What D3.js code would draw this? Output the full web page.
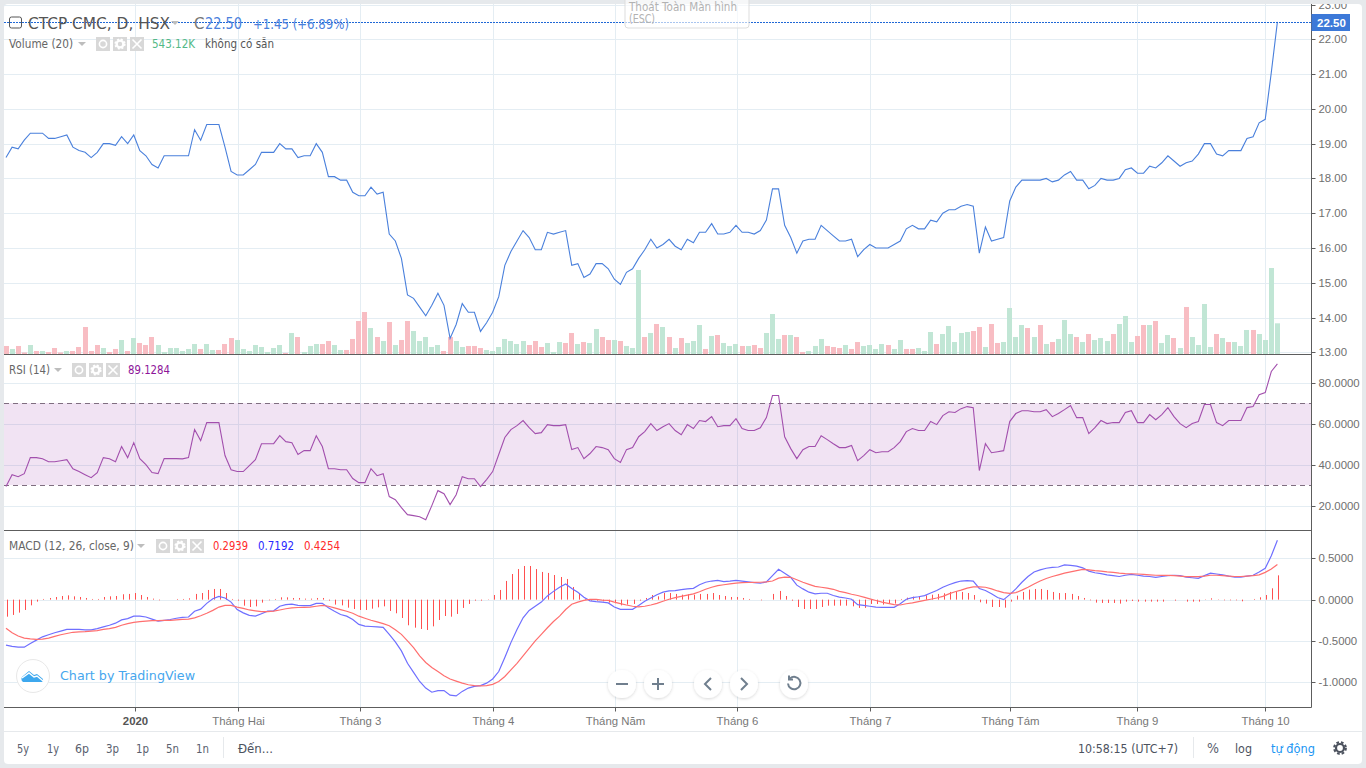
<!DOCTYPE html>
<html><head><meta charset="utf-8">
<script src="https://cdn.jsdelivr.net/npm/d3@7/dist/d3.min.js"></script>
<style>
html,body{margin:0;padding:0;background:#e6e9ec;overflow:hidden}
svg{display:block}
text{font-family:"Liberation Sans",Arial,sans-serif}
.ui{font-family:"DejaVu Sans",sans-serif}
.axis path,.axis line{stroke:#5d5d5d}
.axis text{fill:#6f6f6f;font-size:11.4px;font-family:"Liberation Sans",Arial,sans-serif}
</style></head><body>
<svg id="c" width="1366" height="768"></svg>
<script>
const priceTicks=[13,14,15,16,17,18,19,20,21,22,23];
const rsiTicks=[20,40,60,80];
const macdTicks=[-1,-0.5,0,0.5];
const rsiBands=[30,70];
const timeLabels=["2020","Tháng Hai","Tháng 3","Tháng 4","Tháng Năm","Tháng 6","Tháng 7","Tháng Tám","Tháng 9","Tháng 10"];
const timeIndex=[21.26,38.22,58.28,80.14,100.2,120.24,142.1,165.1,186.06,207.0];
const rangeButtons=["5y","1y","6p","3p","1p","5n","1n"];
const lastClose=22.5;

const price=[18.6,18.9,18.85,19.1,19.3,19.3,19.3,19.15,19.15,19.2,
19.25,18.9,18.8,18.75,18.6,18.75,19.0,19.0,18.95,19.2,
19.0,19.25,18.8,18.65,18.4,18.3,18.65,18.65,18.65,18.65,
18.65,19.4,19.1,19.55,19.55,19.55,18.9,18.2,18.1,18.1,
18.25,18.4,18.75,18.75,18.75,19.0,18.85,18.85,18.6,18.65,
18.65,19.0,18.75,18.05,18.05,17.95,17.95,17.6,17.5,17.5,
17.75,17.55,17.6,16.4,16.2,15.7,14.65,14.55,14.3,14.05,
14.35,14.7,14.35,13.4,13.8,14.4,14.15,14.15,13.6,13.85,
14.15,14.6,15.5,15.9,16.2,16.5,16.3,15.95,15.95,16.45,
16.4,16.45,16.5,15.5,15.55,15.15,15.25,15.55,15.55,15.4,
15.1,14.95,15.3,15.4,15.7,15.95,16.25,16.0,16.1,16.25,
16.05,15.95,16.25,16.15,16.45,16.45,16.7,16.4,16.4,16.45,
16.65,16.45,16.45,16.4,16.5,16.8,17.7,17.7,16.65,16.3,
15.85,16.2,16.25,16.25,16.65,16.5,16.35,16.2,16.2,16.25,
15.75,15.95,16.1,16.0,16.0,16.0,16.1,16.2,16.55,16.65,
16.55,16.55,16.8,16.75,17.0,17.1,17.1,17.2,17.25,17.2,
15.85,16.6,16.2,16.25,16.3,17.35,17.75,17.95,17.95,17.95,
17.95,18.0,17.9,17.95,18.1,18.2,17.95,17.95,17.7,17.8,
18.0,17.95,17.95,18.0,18.25,18.3,18.15,18.15,18.35,18.3,
18.45,18.65,18.5,18.35,18.45,18.5,18.7,19.0,19.0,18.7,
18.65,18.8,18.8,18.8,19.15,19.2,19.6,19.7,21.05,22.5];

const volume=[142,89,142,27,159,53,53,35,106,27,
53,53,124,478,53,159,106,35,89,248,
53,283,195,159,301,159,35,106,106,53,
89,177,89,177,71,71,177,283,248,89,
53,159,124,35,106,159,18,372,301,35,
142,177,177,230,159,71,71,266,584,743,
460,301,230,566,159,248,584,407,230,301,
124,159,53,301,230,124,142,142,106,71,
53,124,266,230,177,230,159,230,124,195,
35,212,195,372,177,212,195,443,301,248,
248,230,142,106,1487,301,372,531,478,301,
106,283,195,230,513,89,319,336,195,142,
177,142,142,159,106,372,708,266,336,336,
301,35,53,142,266,142,124,106,159,89,
212,142,159,89,177,159,89,248,89,89,
106,53,389,177,354,496,212,372,389,407,
478,124,531,195,212,814,301,513,460,301,
513,177,212,266,602,354,301,212,354,248,
283,230,354,531,673,212,319,513,513,584,
195,336,283,106,832,301,159,885,124,354,
283,212,212,142,425,425,354,248,1522,543.12];

const volumeUp=[0,1,0,0,1,0,1,0,0,0,
1,0,0,0,0,0,1,0,0,1,
0,1,0,0,0,1,1,1,1,1,
1,1,0,1,1,0,0,0,1,1,
1,1,1,1,1,1,0,1,0,1,
1,1,0,0,1,1,0,0,0,0,
1,0,1,0,1,0,0,1,1,1,
1,1,0,0,1,1,0,0,0,1,
1,1,1,1,1,1,0,0,0,1,
1,1,0,0,1,0,1,1,0,0,
1,0,1,1,1,0,1,0,1,0,
1,0,1,1,1,0,1,0,1,1,
1,0,1,0,0,1,1,1,0,1,
0,0,1,1,1,0,0,0,1,0,
0,1,1,1,1,0,1,1,0,0,
1,1,1,0,1,1,1,1,1,0,
0,1,0,0,1,1,1,1,0,1,
0,1,0,1,1,1,0,1,0,1,
1,1,0,1,1,1,0,0,1,0,
1,1,0,1,0,1,1,1,1,0,
1,0,1,1,1,0,1,1,1,1];

const rsi=[29.3,35.1,34.1,35.6,43.4,43.4,42.9,41.4,41.4,41.9,
42.4,38.0,36.6,35.1,33.6,36.1,43.4,42.9,41.4,48.8,
43.4,50.7,42.9,40.0,36.1,35.6,42.9,42.9,42.9,42.8,
43.4,57.1,51.7,60.5,60.5,60.5,44.4,37.5,36.6,36.6,
39.5,42.4,50.2,50.2,50.2,54.1,51.2,50.7,44.9,46.8,
46.8,54.1,48.8,38.0,38.0,37.5,37.5,33.2,31.2,31.2,
38.0,34.6,35.6,24.4,22.9,19.0,15.6,15.1,14.6,13.1,
20.0,27.3,25.8,20.5,25.3,34.1,33.1,33.1,29.3,32.7,
36.6,44.9,53.2,57.1,59.0,61.5,58.0,55.1,55.6,59.5,
59.0,59.0,59.5,47.3,48.3,42.9,45.4,48.8,48.3,47.3,
42.9,41.0,47.3,48.3,53.6,56.1,60.0,56.6,58.5,60.0,
56.6,54.6,59.5,57.6,61.5,61.0,63.4,58.5,59.0,59.0,
62.4,57.6,56.6,56.6,58.0,62.9,73.7,73.7,53.6,47.8,
42.9,47.3,48.8,48.8,54.1,52.2,50.2,48.3,48.3,49.3,
41.9,44.4,47.3,45.8,46.3,46.3,48.3,51.2,56.1,57.6,
56.6,56.6,61.0,59.5,63.9,65.8,65.4,67.3,68.3,67.8,
37.1,50.2,45.8,46.3,46.8,61.0,64.9,66.3,66.3,65.8,
65.8,66.8,63.4,64.9,66.8,68.8,62.9,62.9,55.1,58.0,
61.5,60.0,60.5,60.5,65.4,66.3,60.5,60.5,64.4,61.9,
64.4,67.8,63.4,60.0,58.0,60.0,61.0,69.3,69.3,60.5,
59.0,61.5,61.5,61.5,67.8,68.3,74.1,75.1,85.4,89.1284];

const macd=[-.55,-.565,-.575,-.575,-.53,-.49,-.45,-.425,-.40,-.38,
-.36,-.36,-.36,-.365,-.365,-.35,-.33,-.31,-.285,-.245,
-.23,-.20,-.20,-.21,-.235,-.26,-.25,-.24,-.225,-.215,
-.21,-.14,-.115,-.045,.01,.04,.02,-.03,-.12,-.16,
-.19,-.20,-.17,-.14,-.135,-.08,-.06,-.055,-.07,-.072,
-.072,-.045,-.044,-.097,-.14,-.18,-.20,-.24,-.30,-.32,
-.325,-.33,-.335,-.42,-.51,-.62,-.77,-.88,-.99,-1.07,
-1.12,-1.10,-1.10,-1.155,-1.165,-1.11,-1.07,-1.05,-1.04,-1.01,
-.96,-.87,-.70,-.52,-.36,-.22,-.13,-.08,-.03,.045,
.10,.15,.19,.135,.09,.03,-.015,-.025,-.03,-.04,
-.09,-.117,-.117,-.117,-.07,-.02,.02,.06,.09,.105,
.11,.12,.13,.137,.18,.21,.225,.232,.218,.225,
.234,.225,.215,.205,.198,.215,.29,.367,.32,.27,
.175,.13,.09,.069,.077,.077,.05,.03,.02,.005,
-.06,-.07,-.08,-.09,-.093,-.093,-.093,-.05,.005,.025,
.035,.048,.08,.11,.15,.18,.205,.225,.23,.225,
.135,.11,.07,.025,0,.06,.13,.21,.28,.335,
.36,.38,.39,.395,.42,.415,.405,.385,.345,.325,
.315,.30,.29,.28,.295,.305,.295,.285,.28,.27,
.28,.29,.295,.29,.272,.265,.258,.29,.32,.31,
.30,.285,.272,.272,.285,.295,.335,.38,.53,.7192];

const signal=[-.345,-.40,-.44,-.465,-.475,-.48,-.478,-.465,-.445,-.425,
-.41,-.395,-.39,-.387,-.38,-.375,-.36,-.35,-.335,-.31,
-.29,-.275,-.265,-.26,-.255,-.253,-.25,-.25,-.245,-.24,
-.235,-.22,-.195,-.165,-.13,-.09,-.07,-.07,-.09,-.105,
-.125,-.135,-.145,-.145,-.14,-.125,-.11,-.10,-.095,-.093,
-.09,-.08,-.07,-.08,-.10,-.12,-.14,-.165,-.20,-.225,
-.25,-.27,-.29,-.315,-.365,-.42,-.50,-.58,-.68,-.76,
-.82,-.87,-.92,-.96,-.985,-1.01,-1.03,-1.04,-1.044,-1.04,
-1.025,-.99,-.93,-.85,-.77,-.68,-.59,-.50,-.42,-.34,
-.265,-.20,-.12,-.055,-.03,-.01,.002,.003,-.005,-.01,
-.03,-.048,-.065,-.08,-.088,-.08,-.065,-.045,-.02,.005,
.025,.04,.055,.07,.095,.125,.15,.17,.18,.19,
.20,.205,.207,.208,.21,.215,.225,.26,.272,.27,
.24,.21,.185,.16,.15,.14,.125,.10,.085,.065,
.05,.03,.01,-.01,-.03,-.045,-.06,-.065,-.05,-.04,
-.025,-.01,.005,.02,.04,.07,.095,.115,.14,.155,
.155,.15,.13,.105,.085,.075,.085,.115,.15,.19,
.225,.255,.28,.30,.32,.335,.35,.365,.36,.35,
.345,.335,.33,.32,.315,.313,.31,.305,.30,.295,
.294,.294,.29,.285,.278,.278,.278,.285,.295,.295,
.29,.285,.28,.28,.285,.29,.30,.33,.37,.4254];

const hist=[-.206,-.185,-.157,-.125,-.069,-.024,.008,.02,.032,.044,
.052,.04,.032,.02,.008,.008,.032,.04,.044,.065,
.069,.08,.056,.032,.012,-.008,0,0,.008,.008,
.016,.069,.08,.117,.129,.129,.08,.008,-.012,-.073,
-.089,-.081,-.036,-.008,.008,.028,.028,.02,.02,.012,
.012,.02,.02,-.012,-.06,-.069,-.097,-.113,-.125,-.125,
-.109,-.093,-.081,-.137,-.165,-.222,-.31,-.339,-.355,-.367,
-.323,-.246,-.198,-.206,-.173,-.10,-.052,-.012,-.012,.004,
.056,.117,.226,.31,.37,.407,.407,.37,.335,.323,
.298,.274,.25,.153,.08,.008,-.012,-.012,-.02,-.036,
-.044,-.069,-.06,-.052,-.012,.02,.056,.04,.08,.08,
.069,.06,.065,.06,.069,.069,.08,.056,.044,.032,
.032,.02,.008,0,-.008,0,.069,.105,.044,-.012,
-.089,-.113,-.113,-.113,-.089,-.073,-.073,-.073,-.073,-.081,
-.10,-.10,-.052,-.052,-.06,-.048,-.048,.008,.024,.036,
.044,.052,.06,.069,.077,.093,.10,.093,.08,.056,
-.032,-.048,-.089,-.089,-.097,-.024,.048,.093,.121,.129,
.129,.117,.093,.08,.08,.069,.044,.02,-.008,-.036,
-.04,-.04,-.04,-.048,-.024,-.016,-.024,-.024,-.024,-.024,
-.024,0,-.012,0,-.024,-.024,-.024,.004,.016,.004,
-.008,-.008,-.008,-.02,0,.008,.028,.056,.137,.2939];

[price,volume,volumeUp,rsi,macd,signal,hist].forEach((a,k)=>{if(a.length!==210)throw new Error("len "+k+" "+a.length)});
const idx=d3.range(210);

const svg=d3.select("#c");
svg.append("rect").attr("x",4).attr("y",4).attr("width",1358).attr("height",760).attr("rx",4).attr("fill","#fff");

const L=4,R=1311.5;
const x=d3.scaleLinear().domain([0,209]).range([6,1277.4]);
const yP=d3.scaleLinear().domain([13,22]).range([352.3,39.3]);
const yV=d3.scaleLinear().domain([0,1522]).range([354,268]);
const yR=d3.scaleLinear().domain([20,80]).range([505.6,382.6]);
const yM=d3.scaleLinear().domain([-1,0.5]).range([682.3,558.3]);

const defs=svg.append("defs");
[["cp",4,350],["cr",355,175.5],["cm",531,176]].forEach(([id,y,h])=>{
  defs.append("clipPath").attr("id",id).append("rect").attr("x",L).attr("y",y).attr("width",R-L).attr("height",h);
});
const GRID="#e4edf3";
const grid=svg.append("g").attr("stroke",GRID).attr("stroke-width",1);
function hgrid(vals,scale,clip){
  grid.append("g").attr("clip-path",`url(#${clip})`).selectAll("line").data(vals).join("line")
    .attr("x1",L).attr("x2",R).attr("y1",d=>Math.round(scale(d))+.5).attr("y2",d=>Math.round(scale(d))+.5);
}
hgrid(priceTicks,yP,"cp");hgrid(rsiTicks,yR,"cr");hgrid(macdTicks,yM,"cm");
grid.selectAll("line.v").data(timeIndex).join("line").attr("class","v")
  .attr("x1",d=>Math.floor(x(d))+.5).attr("x2",d=>Math.floor(x(d))+.5).attr("y1",4).attr("y2",707);

const pg=svg.append("g").attr("clip-path","url(#cp)");
pg.selectAll("rect.vol").data(idx).join("rect").attr("class","vol")
  .attr("x",i=>Math.round(x(i)-2.5)).attr("width",5)
  .attr("y",i=>yV(volume[i])).attr("height",i=>yV(0)-yV(volume[i]))
  .attr("fill",i=>volumeUp[i]?"#c1e6d5":"#f8bdc3");
pg.append("path").datum(idx).attr("fill","none").attr("stroke","#4a80dc").attr("stroke-width",1.1)
  .attr("d",d3.line().x(i=>x(i)).y(i=>yP(price[i])));
svg.append("line").attr("x1",L).attr("x2",R).attr("y1",Math.round(yP(lastClose))+.5).attr("y2",Math.round(yP(lastClose))+.5)
  .attr("stroke","#1f68d6").attr("stroke-width",1).attr("stroke-dasharray","2 1");

const rg=svg.append("g").attr("clip-path","url(#cr)");
rg.append("rect").attr("x",L).attr("width",R-L).attr("y",yR(rsiBands[1])).attr("height",yR(rsiBands[0])-yR(rsiBands[1])).attr("fill","#8e1599").attr("fill-opacity",.12);
rg.selectAll("line.b").data(rsiBands).join("line").attr("class","b").attr("x1",L).attr("x2",R)
  .attr("y1",d=>Math.round(yR(d))+.5).attr("y2",d=>Math.round(yR(d))+.5)
  .attr("stroke","#7f6e80").attr("stroke-dasharray","5 4");
rg.append("path").datum(idx).attr("fill","none").attr("stroke","#a24fad").attr("stroke-width",1.1)
  .attr("d",d3.line().x(i=>x(i)).y(i=>yR(rsi[i])));

const mg=svg.append("g").attr("clip-path","url(#cm)");
mg.selectAll("rect.h").data(idx).join("rect").attr("class","h")
  .attr("x",i=>Math.round(x(i))+1).attr("width",1)
  .attr("y",i=>Math.min(yM(0),yM(hist[i]))).attr("height",i=>Math.abs(yM(0)-yM(hist[i])))
  .attr("fill","#ff4f4f");
mg.append("path").datum(idx).attr("fill","none").attr("stroke","#6f6fff").attr("stroke-width",1.2)
  .attr("d",d3.line().x(i=>x(i)).y(i=>yM(macd[i])));
mg.append("path").datum(idx).attr("fill","none").attr("stroke","#ff6f6f").attr("stroke-width",1.2)
  .attr("d",d3.line().x(i=>x(i)).y(i=>yM(signal[i])));

function rAxis(scale,ticks,fmt){
  const g=svg.append("g").attr("class","axis").attr("transform",`translate(${R},0)`)
    .call(d3.axisRight(scale).tickValues(ticks).tickFormat(fmt).tickSize(4).tickPadding(3));
  g.select(".domain").remove();
  g.selectAll(".tick").attr("transform",d=>`translate(0,${Math.round(scale(d))+.5})`);
  return g;
}
rAxis(yP,priceTicks,d=>d.toFixed(2));
rAxis(yR,rsiTicks,d=>d.toFixed(4));
rAxis(yM,macdTicks,d=>d.toFixed(4));
svg.append("line").attr("x1",R).attr("x2",R).attr("y1",4).attr("y2",707.5).attr("stroke","#5d5d5d");
[354.5,530.5,707.5].forEach(y=>svg.append("line").attr("x1",L).attr("x2",R).attr("y1",y).attr("y2",y).attr("stroke","#5d5d5d"));
const xAxis=svg.append("g").attr("class","axis").attr("transform","translate(0,707.5)")
  .call(d3.axisBottom(x).tickValues(timeIndex).tickFormat((d,i)=>timeLabels[i]).tickSize(4).tickPadding(5));
xAxis.select(".domain").remove();
xAxis.selectAll(".tick").attr("transform",d=>`translate(${Math.floor(x(d))+.5},0)`);
xAxis.selectAll("text").style("font-weight",(d,i)=>i===0?"bold":"normal").style("fill",(d,i)=>i===0?"#555":"#777");
svg.append("rect").attr("x",1300).attr("y",0).attr("width",66).attr("height",4).attr("fill","#e6e9ec");

svg.append("rect").attr("x",1311.5).attr("y",14).attr("width",38.5).attr("height",17).attr("fill","#3c79d8");
svg.append("text").attr("x",1317).attr("y",26.5).attr("fill","#fff").attr("font-weight","bold").attr("font-size",11.5).text(lastClose.toFixed(2));

function t(xp,yp,s,fill,size,w){
  const e=svg.append("text").attr("x",xp).attr("y",yp).attr("fill",fill).attr("font-size",size).attr("class","ui").text(s);
  if(w)e.attr("textLength",w).attr("lengthAdjust","spacingAndGlyphs");
  return e;
}
function caret(xp,yp){svg.append("path").attr("d",`M${xp},${yp}h8l-4,4z`).attr("fill","#bdbdbd");}
function icons(x0,yc){
  [0,17,34].forEach((dx,k)=>{
    const X=x0+dx;
    svg.append("rect").attr("x",X).attr("y",yc-7).attr("width",14).attr("height",14).attr("fill","#d8d8d8");
    if(k===0){svg.append("circle").attr("cx",X+7).attr("cy",yc).attr("r",3.6).attr("fill","none").attr("stroke","#fff").attr("stroke-width",1.6);}
    if(k===1){svg.append("circle").attr("cx",X+7).attr("cy",yc).attr("r",3.4).attr("fill","none").attr("stroke","#fff").attr("stroke-width",2.4);
      svg.append("circle").attr("cx",X+7).attr("cy",yc).attr("r",4.8).attr("fill","none").attr("stroke","#fff").attr("stroke-width",1.6).attr("stroke-dasharray","2 1.8");}
    if(k===2){svg.append("path").attr("d",`M${X+2.5},${yc-4.5}l9,9m0,-9l-9,9`).attr("stroke","#fff").attr("stroke-width",1.6);}
  });
}
svg.append("rect").attr("x",9.5).attr("y",17).attr("width",12).attr("height",11).attr("rx",2).attr("fill","none").attr("stroke","#555");
t(28,28.5,"CTCP CMC, D, HSX","#555",15.5,142);
caret(171,21);
t(194,28.5,"C","#777",15);
t(205,28.5,"22.50","#4a80dc",15,37);
t(253,28.5,"+1.45 (+6.89%)","#4a80dc",14.5,96);
t(9,48,"Volume (20)","#666",12,64);caret(78,42);icons(96,44);
t(152,48,"543.12K","#53b987",12,43);t(205,48,"không có sẵn","#555",12,69);
t(9,374,"RSI (14)","#666",12,41);caret(54,368);icons(72,370);
t(128,374,"89.1284","#8e1599",12,42);
t(9,550,"MACD (12, 26, close, 9)","#666",12,125);caret(137,544);icons(156,546);
t(213,550,"0.2939","#ff2a2a",12,35);t(258,550,"0.7192","#2a2aff",12,36);t(304,550,"0.4254","#ff2a2a",12,36);

svg.append("rect").attr("x",625).attr("y",-3).attr("width",124).attr("height",31).attr("rx",3).attr("fill","#fff").attr("fill-opacity",.62).attr("stroke","#ddd");
t(629,11,"Thoát Toàn Màn hình","#b2b2b2",11.5,108);
t(629,23,"(ESC)","#b2b2b2",11.5,26);

svg.append("circle").attr("cx",33).attr("cy",676).attr("r",16.5).attr("fill","#fff").attr("stroke","#e8e8e8");
svg.append("path").attr("d","M23,682a3.6,3.6 0 0 1 0,-6l6,-5 5,4 3,-1 6,5a2.6,2.6 0 0 1 -1,3z").attr("fill","#3ea8ee");
svg.append("path").attr("d","M22,678l7,-5 5,4 3,-1 6,5").attr("fill","none").attr("stroke","#fff").attr("stroke-width",1.4);
t(60,680,"Chart by TradingView","#45a6ee",13,135);

const fb=[622,658,708,744,794];
const bg=svg.append("g");
const sh=defs.append("filter").attr("id","s").attr("x","-30%").attr("y","-30%").attr("width","160%").attr("height","160%");
sh.append("feDropShadow").attr("dx",0).attr("dy",1).attr("stdDeviation",1.6).attr("flood-color","#000").attr("flood-opacity",.16);
fb.forEach(cx=>bg.append("circle").attr("cx",cx).attr("cy",684).attr("r",14).attr("fill","#fff").attr("filter","url(#s)"));
const ic={fill:"none",stroke:"#707f8e","stroke-width":2};
function p(d){const e=bg.append("path").attr("d",d);Object.entries(ic).forEach(([k,v])=>e.attr(k,v));}
p("M616,684h12");p("M652,684h12M658,678v12");p("M711,678l-6,6 6,6");p("M741,678l6,6 -6,6");
p("M790,678.5a6.2,6.2 0 1 1 -2,5");p("M789,675.5v4h4");

svg.append("line").attr("x1",4).attr("x2",1362).attr("y1",731.5).attr("y2",731.5).attr("stroke","#e6e9ec");
const bx=[17,47,75,106,136,166,196];
const bw=[12,12,14,13,13,13,13];
rangeButtons.forEach((s,i)=>t(bx[i],753,s,"#59606e",12.5,bw[i]));
svg.append("line").attr("x1",223.5).attr("x2",223.5).attr("y1",737).attr("y2",758).attr("stroke","#e6e9ec");
t(238,753,"Đến...","#4c525e",12.5,35);
t(1078,753,"10:58:15 (UTC+7)","#4c525e",12.5,100);
svg.append("line").attr("x1",1193.5).attr("x2",1193.5).attr("y1",737).attr("y2",758).attr("stroke","#e6e9ec");
t(1207,753,"%","#59606e",14,12);
t(1235,753,"log","#4c525e",12.5,17);
t(1271,753,"tự động","#2196f3",12.5,44);
const gc=[1340,748];
svg.append("circle").attr("cx",gc[0]).attr("cy",gc[1]).attr("r",4).attr("fill","none").attr("stroke","#4c525e").attr("stroke-width",2.2);
svg.append("circle").attr("cx",gc[0]).attr("cy",gc[1]).attr("r",5.8).attr("fill","none").attr("stroke","#4c525e").attr("stroke-width",2.2).attr("stroke-dasharray","2.6 2");
</script>
</body></html>
